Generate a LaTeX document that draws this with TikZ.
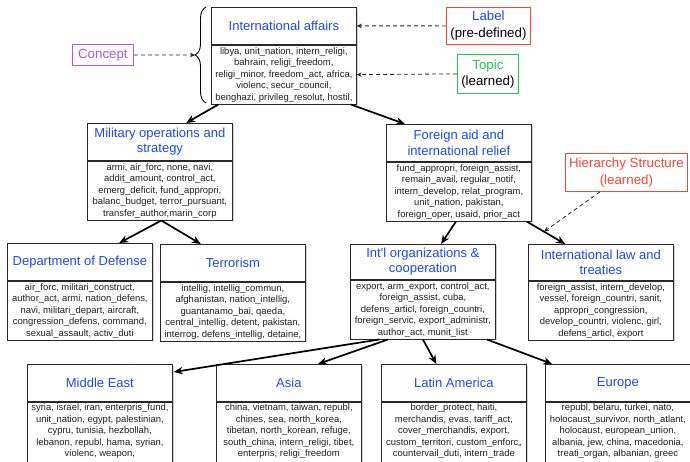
\documentclass[tikz,border=0pt]{standalone}
\usepackage{fontspec}
\setmainfont{Liberation Sans}
\usetikzlibrary{calc,arrows.meta,decorations.pathreplacing,shadows}
\definecolor{hblue}{RGB}{30,72,250}
\definecolor{lred}{RGB}{250,70,50}
\definecolor{lgreen}{RGB}{40,195,90}
\definecolor{lpurple}{RGB}{175,90,225}
\definecolor{boxline}{RGB}{40,40,40}
\begin{document}
\begin{tikzpicture}[x=1pt,y=-1pt,
  shad/.style={drop shadow={shadow xshift=1.2pt,shadow yshift=-1.2pt,opacity=0.35}},
  head/.style={draw=boxline,line width=0.75pt,fill=white,shad,minimum width=145pt,minimum height=37pt,
    align=center,inner sep=0pt,font=\fontsize{13}{15.5}\selectfont,text=hblue,anchor=north west},
  body/.style={draw=boxline,line width=0.75pt,fill=white,shad,minimum width=145pt,minimum height=59pt,
    align=center,inner xsep=0pt,inner ysep=1.8pt,font=\fontsize{9.45}{11.5}\selectfont,text=black!88,anchor=north},
  link/.style={line width=1.7pt,draw=black,-{Stealth[length=9pt,width=7.5pt]}},
  note/.style={line width=0.8pt,draw=black!85,dash pattern=on 4pt off 3pt,-{Stealth[length=5pt,width=4.5pt]}},
  tag/.style={line width=0.8pt,fill=white,align=center,inner sep=0pt,anchor=north west,font=\fontsize{13.3}{17}\selectfont}]
\useasboundingbox (0,0) rectangle (690,461);
\clip (0,0) rectangle (690,461);
\fill[white] (0,0) rectangle (690,461);

% ---- International affairs
\node[head] (ia) at (211,7) {International affairs};
\node[body] (iaB) at (ia.south) {libya, unit\_nation, intern\_religi,\\ bahrain, religi\_freedom,\\ religi\_minor, freedom\_act, africa,\\ violenc, secur\_council,\\ benghazi, privileg\_resolut, hostil,};

% ---- second level
\node[head] (mil) at (87,123) {Military operations and\\strategy};
\node[body] (milB) at (mil.south) {armi, air\_forc, none, navi,\\ addit\_amount, control\_act,\\ emerg\_deficit, fund\_appropri,\\ balanc\_budget, terror\_pursuant,\\ transfer\_author,marin\_corp};

\node[head] (fa) at (386,124) {Foreign aid and\\international relief};
\node[body] (faB) at (fa.south) {fund\_appropri, foreign\_assist,\\ remain\_avail, regular\_notif,\\ intern\_develop, relat\_program,\\ unit\_nation, pakistan,\\ foreign\_oper, usaid, prior\_act};

% ---- third level
\node[head] (dod) at (7,243) {Department of Defense};
\node[body] (dodB) at (dod.south) {air\_forc, militari\_construct,\\ author\_act, armi, nation\_defens,\\ navi, militari\_depart, aircraft,\\ congression\_defens, command,\\ sexual\_assault, activ\_duti};

\node[head] (ter) at (160,244) {Terrorism};
\node[body] (terB) at (ter.south) {intellig, intellig\_commun,\\ afghanistan, nation\_intellig,\\ guantanamo\_bai, qaeda,\\ central\_intellig, detent, pakistan,\\ interrog, defens\_intellig, detaine,};

\node[head,minimum height=35pt] (io) at (350,244) {Int\textquotesingle l organizations \&\\cooperation};
\node[body] (ioB) at (io.south) {export, arm\_export, control\_act,\\ foreign\_assist, cuba,\\ defens\_articl, foreign\_countri,\\ foreign\_servic, export\_administr,\\ author\_act, munit\_list};

\node[head,minimum height=36pt] (il) at (528,244) {International law and\\treaties};
\node[body] (ilB) at (il.south) {foreign\_assist, intern\_develop,\\ vessel, foreign\_countri, sanit,\\ appropri\_congression,\\ develop\_countri, violenc, girl,\\ defens\_articl, export};

% ---- fourth level
\node[head] (me) at (27,364) {Middle East};
\node[body] (meB) at (me.south) {syria, israel, iran, enterpris\_fund,\\ unit\_nation, egypt, palestinian,\\ cypru, tunisia, hezbollah,\\ lebanon, republ, hama, syrian,\\ violenc, weapon,\\ \mbox{}\\ \mbox{}};

\node[head] (as) at (216,364) {Asia};
\node[body] (asB) at (as.south) {china, vietnam, taiwan, republ,\\ chines, sea, north\_korea,\\ tibetan, north\_korean, refuge,\\ south\_china, intern\_religi, tibet,\\ enterpris, religi\_freedom\\ \mbox{}\\ \mbox{}};

\node[head] (la) at (381,364) {Latin America};
\node[body] (laB) at (la.south) {border\_protect, haiti,\\ merchandis, evas, tariff\_act,\\ cover\_merchandis, export,\\ custom\_territori, custom\_enforc,,\\ countervail\_duti, intern\_trade\\ \mbox{}\\ \mbox{}};

\node[head] (eu) at (545,364) {Europe};
\node[body] (euB) at (eu.south) {republ, belaru, turkei, nato,\\ holocaust\_survivor, north\_atlant,\\ holocaust, european\_union,\\ albania, jew, china, macedonia,\\ treati\_organ, albanian, greec\\ \mbox{}\\ \mbox{}};

% ---- annotation boxes
\node[tag,draw=lred,minimum width=84pt,minimum height=37pt] (label) at (446,7) {\textcolor{hblue}{Label}\\(pre-defined)};
\node[tag,draw=lgreen,minimum width=61pt,minimum height=39pt,font=\fontsize{13.3}{15.5}\selectfont] (topic) at (457,54) {\textcolor{lgreen}{Topic}\\(learned)};
\node[tag,draw=lpurple,text=lpurple,minimum width=61pt,minimum height=21pt] (concept) at (72,44) {Concept};
\node[tag,draw=lred,text=lred,minimum width=122pt,minimum height=38pt] (hier) at (565,153) {Hierarchy Structure\\(learned)};

% ---- brace
\draw[line width=0.9pt,decorate,decoration={brace,amplitude=11pt,aspect=0.5}] (206,103) -- (206,7);
\coordinate (braceTip) at (195,55);

% ---- hierarchy connectors
\draw[link] ($(iaB.south west)!0.05!(iaB.south east)$) -- ($(mil.north west)!0.68!(mil.north east)$);
\draw[link] ($(iaB.south west)!0.96!(iaB.south east)$) -- ($(fa.north west)!0.13!(fa.north east)$);
\draw[link] ($(milB.south west)!0.51!(milB.south east)$) -- ($(dod.north west)!0.77!(dod.north east)$);
\draw[link] ($(milB.south west)!0.51!(milB.south east)$) -- ($(ter.north west)!0.28!(ter.north east)$);
\draw[link] ($(faB.south west)!0.48!(faB.south east)$) -- ($(io.north west)!0.625!(io.north east)$);
\coordinate (s1) at ($(faB.south west)!0.965!(faB.south east)$);
\coordinate (e1) at ($(il.north west)!0.255!(il.north east)$);
\draw[link] (s1) -- (e1);
\draw[link] ($(ioB.south west)!0.2!(ioB.south east)$) -- ($(me.north east)+(1,8)$);
\draw[link] ($(ioB.south west)!0.26!(ioB.south east)$) -- ($(as.north west)!0.7!(as.north east)$);
\draw[link] ($(ioB.south west)!0.5!(ioB.south east)$) -- ($(la.north west)!0.38!(la.north east)$);
\draw[link] ($(ioB.south west)!0.94!(ioB.south east)$) -- ($(eu.north west)!0.05!(eu.north east)$);

% ---- annotation connectors
\draw[note] (label.west) -- (ia.east);
\draw[note] (topic.west) -- (iaB.east);
\draw[note] (concept.east) -- (braceTip);
\draw[note] ($(hier.south west)+(35,0)$) -- ($(s1)!0.45!(e1)$);
\end{tikzpicture}
\end{document}
